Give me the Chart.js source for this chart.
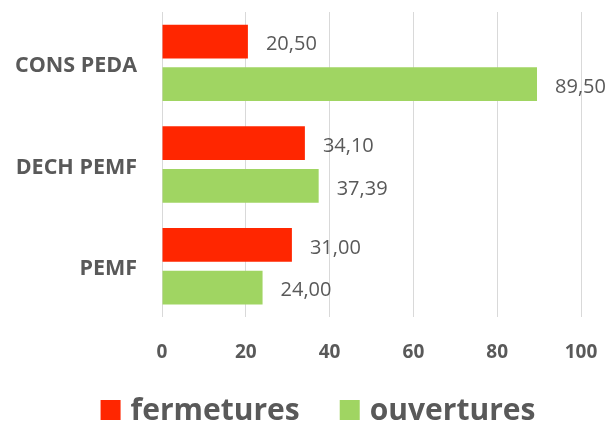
<!DOCTYPE html>
<html>
<head>
<meta charset="utf-8">
<script src="https://cdn.jsdelivr.net/npm/chart.js@4/dist/chart.umd.min.js"></script>
<style>
  html, body { margin: 0; padding: 0; background: #fff; }
  #wrap { width: 609px; height: 429px; }
</style>
</head>
<body>
<div id="wrap"><canvas id="chart" width="609" height="429"></canvas></div>
<script>
const categories = ["CONS PEDA", "DECH PEMF", "PEMF"];
const fermetures = [20.5, 34.1, 31.0];
const ouvertures = [89.5, 37.39, 24.0];
const xTicks = [0, 20, 40, 60, 80, 100];

const textColor = "#595959";
const fontFamily = "'Open Sans', 'DejaVu Sans', sans-serif";

// valeurs écrites au bout des barres, virgule décimale
const valueLabels = {
    id: "valueLabels",
    afterDatasetsDraw(chart) {
        const ctx = chart.ctx;
        ctx.save();
        ctx.fillStyle = textColor;
        ctx.font = "20px " + fontFamily;
        ctx.textBaseline = "middle";
        ctx.textAlign = "left";
        chart.data.datasets.forEach((ds, i) => {
            chart.getDatasetMeta(i).data.forEach((bar, j) => {
                let txt = ds.data[j].toFixed(2).replace(".", ",");
                ctx.fillText(txt, bar.x + 18, bar.y + 3);
            });
        });
        ctx.restore();
    }
};

// légende dessinée à la main sous l'axe
const bottomLegend = {
    id: "bottomLegend",
    afterDraw(chart) {
        const ctx = chart.ctx;
        const ds = chart.data.datasets;
        const box = 20, gapText = 10, gapItem = 40;
        ctx.save();
        ctx.font = "bold 30px " + fontFamily;
        ctx.textBaseline = "middle";
        ctx.textAlign = "left";
        let widths = ds.map(d => ctx.measureText(d.label).width);
        let total = widths.reduce((a, w) => a + box + gapText + w, 0) + gapItem * (ds.length - 1);
        let x = 318 - total / 2;
        let y = 410;
        ds.forEach((d, i) => {
            ctx.fillStyle = d.backgroundColor;
            ctx.fillRect(x, y - box / 2, box, box);
            ctx.fillStyle = textColor;
            ctx.fillText(d.label, x + box + gapText, y + 1);
            x += box + gapText + widths[i] + gapItem;
        });
        ctx.restore();
    }
};

new Chart(document.getElementById("chart"), {
    type: "bar",
    data: {
        labels: categories,
        datasets: [
            { label: "fermetures", data: fermetures, backgroundColor: "#FF2600" },
            { label: "ouvertures", data: ouvertures, backgroundColor: "#A0D562" }
        ]
    },
    options: {
        indexAxis: "y",
        responsive: false,
        animation: false,
        layout: { padding: { left: 15, right: 28, top: 12, bottom: 65 } },
        datasets: { bar: { categoryPercentage: 0.84, barPercentage: 0.79 } },
        scales: {
            x: {
                min: 0,
                max: 100,
                afterBuildTicks: axis => { axis.ticks = xTicks.map(v => ({ value: v })); },
                afterFit: axis => {
                    axis.paddingLeft = 0;
                    axis.paddingRight = 0;
                    axis.height -= 24;
                },
                grid: { color: "#d9d9d9", drawTicks: false },
                border: { display: false },
                ticks: {
                    color: textColor,
                    padding: 24,
                    font: { family: fontFamily, size: 19, weight: "bold" }
                }
            },
            y: {
                afterFit: axis => {
                    axis.paddingTop = 0;
                    axis.paddingBottom = 0;
                    axis.width -= 25;
                },
                grid: { display: false, drawTicks: false },
                border: { display: false },
                ticks: {
                    color: textColor,
                    padding: 25,
                    labelOffset: 3,
                    font: { family: fontFamily, size: 21.5, weight: "bold" }
                }
            }
        },
        plugins: {
            legend: { display: false },
            tooltip: { enabled: false }
        }
    },
    plugins: [valueLabels, bottomLegend]
});
</script>
</body>
</html>
